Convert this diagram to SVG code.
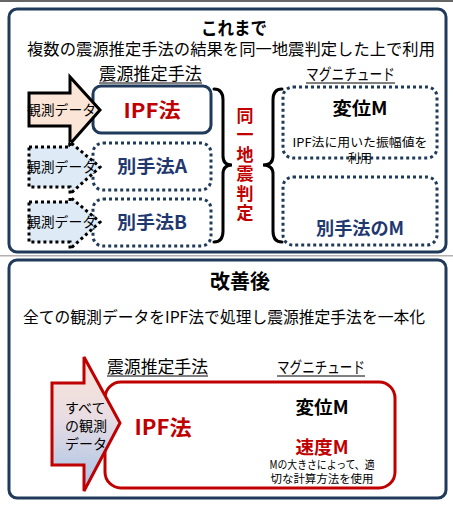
<svg xmlns="http://www.w3.org/2000/svg" width="453" height="506" viewBox="0 0 453 506">
<defs>
<linearGradient id="g1" x1="0" y1="0" x2="0" y2="1">
<stop offset="0" stop-color="#fbe5d6"/>
<stop offset="0.45" stop-color="#e9dde3"/>
<stop offset="1" stop-color="#a4c2e6"/>
</linearGradient>
<style>
text{font-family:"Noto Sans CJK JP","Noto Sans",sans-serif;fill:#000}
.b{font-weight:700}
.red{fill:#c00000}
.navy{fill:#1f3870}
.panel{fill:#fff;stroke:#1f3a5a;stroke-width:3}
.solid{fill:#fff;stroke:#1f3a5a;stroke-width:3}
.dot{fill:#fff;stroke:#1f3a5a;stroke-width:3;stroke-dasharray:3 3}
.arr1{fill:#fbe5d6;stroke:#000;stroke-width:3;stroke-linejoin:miter}
.arr2{fill:#deebf7;stroke:#000;stroke-width:3;stroke-dasharray:3 3}
.brace{fill:none;stroke:#000;stroke-width:3;stroke-linecap:round}
.ul{stroke:#000;stroke-width:1}
.vert{writing-mode:vertical-rl;text-orientation:upright}
</style>
</defs>
<rect x="0" y="0" width="453" height="506" fill="#fff"/>
<rect x="0" y="0" width="453" height="2" fill="#666"/>
<rect x="0" y="255" width="453" height="1.5" fill="#b0b0b0"/>

<g id="panel-before">
<rect class="panel" x="9" y="9" width="437" height="243" rx="8"/>
<text class="b" x="234" y="35" font-size="18" text-anchor="middle" textLength="66" lengthAdjust="spacingAndGlyphs">これまで</text>
<text x="231" y="55" font-size="16" text-anchor="middle" textLength="408" lengthAdjust="spacingAndGlyphs">複数の震源推定手法の結果を同一地震判定した上で利用</text>
<text x="99" y="80" font-size="17" textLength="103" lengthAdjust="spacingAndGlyphs">震源推定手法</text>
<line class="ul" x1="99" y1="83" x2="202" y2="83"/>
<text x="306" y="80" font-size="16" textLength="89" lengthAdjust="spacingAndGlyphs">マグニチュード</text>
<line class="ul" x1="306" y1="83" x2="395" y2="83"/>
</g>

<g id="node-ipf">
<rect class="solid" x="93" y="86" width="118" height="47" rx="8"/>
<text class="b red" x="152" y="118" font-size="20" text-anchor="middle" textLength="57" lengthAdjust="spacingAndGlyphs">IPF法</text>
</g>
<g id="node-a">
<rect class="dot" x="93" y="143" width="118" height="47" rx="10"/>
<text class="b navy" x="152" y="173" font-size="18" text-anchor="middle" textLength="70" lengthAdjust="spacingAndGlyphs">別手法A</text>
</g>
<g id="node-b">
<rect class="dot" x="93" y="199" width="118" height="47" rx="10"/>
<text class="b navy" x="152" y="229" font-size="18" text-anchor="middle" textLength="70" lengthAdjust="spacingAndGlyphs">別手法B</text>
</g>

<g id="arrow-data1">
<polygon class="arr1" points="29,93 70,93 70,77 100,110 70,144 70,126 29,126"/>
<text x="27" y="115" font-size="14" textLength="69" lengthAdjust="spacingAndGlyphs">観測データ</text>
</g>
<g id="arrow-data2">
<polygon class="arr2" points="29,147 70,147 70,142 100,167 70,194 70,187 29,187"/>
<text x="27" y="172" font-size="14" textLength="69" lengthAdjust="spacingAndGlyphs">観測データ</text>
</g>
<g id="arrow-data3">
<polygon class="arr2" points="29,202 70,202 70,197 100,222 70,249 70,242 29,242"/>
<text x="27" y="227" font-size="14" textLength="69" lengthAdjust="spacingAndGlyphs">観測データ</text>
</g>

<g id="label-same-quake">
<text class="b red vert" x="245" y="107" font-size="17" letter-spacing="2.5">同一地震判定</text>
</g>

<g id="node-disp-m">
<rect class="dot" x="283" y="87" width="154" height="71" rx="10"/>
<text class="b" x="360" y="115" font-size="18" text-anchor="middle" textLength="55" lengthAdjust="spacingAndGlyphs">変位M</text>
<text x="360" y="147" font-size="12" text-anchor="middle" textLength="135" lengthAdjust="spacingAndGlyphs">IPF法に用いた振幅値を</text>
<text x="360" y="163" font-size="12" text-anchor="middle">利用</text>
</g>
<g id="node-other-m">
<rect class="dot" x="283" y="177" width="154" height="68" rx="10"/>
<text class="b navy" x="360" y="235" font-size="18" text-anchor="middle" textLength="88" lengthAdjust="spacingAndGlyphs">別手法のM</text>
</g>

<g id="connectors">
<path class="brace" d="M214,89 Q223,89 223,100 L223,156 Q223,165 232,165 Q223,165 223,174 L223,231 Q223,242 214,242"/>
<path class="brace" d="M282,89 Q273,89 273,100 L273,156 Q273,165 263,165 Q273,165 273,174 L273,231 Q273,242 282,242"/>
</g>

<g id="panel-after">
<rect class="panel" x="9" y="260" width="437" height="238" rx="8"/>
<text class="b" x="240" y="289" font-size="20" text-anchor="middle" textLength="60" lengthAdjust="spacingAndGlyphs">改善後</text>
<text x="224" y="323" font-size="16" text-anchor="middle" textLength="402" lengthAdjust="spacingAndGlyphs">全ての観測データをIPF法で処理し震源推定手法を一本化</text>
<text x="107" y="373" font-size="17" textLength="101" lengthAdjust="spacingAndGlyphs">震源推定手法</text>
<line class="ul" x1="107" y1="376" x2="208" y2="376"/>
<text x="277" y="373" font-size="16" textLength="88" lengthAdjust="spacingAndGlyphs">マグニチュード</text>
<line class="ul" x1="277" y1="376" x2="365" y2="376"/>
</g>

<g id="node-unified">
<rect fill="#fff" stroke="#c00000" stroke-width="3" x="105" y="382" width="290" height="106" rx="16"/>
<text class="b red" x="163" y="435" font-size="21" text-anchor="middle" textLength="57" lengthAdjust="spacingAndGlyphs">IPF法</text>
<text class="b" x="322" y="414" font-size="18" text-anchor="middle" textLength="53" lengthAdjust="spacingAndGlyphs">変位M</text>
<text class="b red" x="322" y="454" font-size="18" text-anchor="middle" textLength="53" lengthAdjust="spacingAndGlyphs">速度M</text>
<text x="322" y="469" font-size="11.5" text-anchor="middle" textLength="105" lengthAdjust="spacingAndGlyphs">Mの大きさによって、適</text>
<text x="322" y="483" font-size="11.5" text-anchor="middle" textLength="103" lengthAdjust="spacingAndGlyphs">切な計算方法を使用</text>
</g>

<g id="arrow-all-data">
<polygon fill="url(#g1)" stroke="#c00000" stroke-width="3" points="52,383 84,383 84,357 120,423 84,491 84,465 52,465"/>
<text font-size="14">
<tspan x="65" y="413">すべて</tspan>
<tspan x="65" y="431">の観測</tspan>
<tspan x="65" y="449">データ</tspan>
</text>
</g>
</svg>
